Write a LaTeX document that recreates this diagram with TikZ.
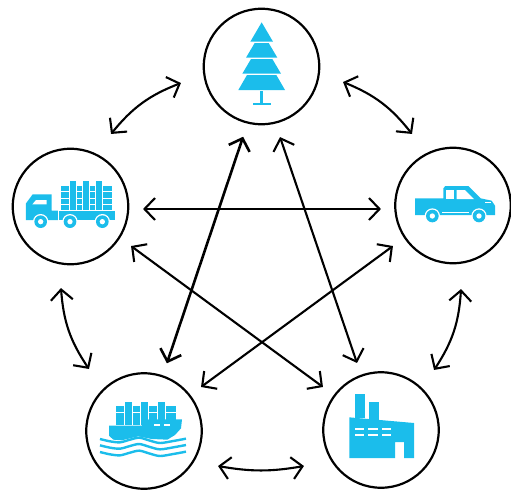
\documentclass[tikz,border=0pt]{standalone}
\usepackage{amsmath, amssymb}
\usetikzlibrary{arrows.meta}
\definecolor{iconBlue}{HTML}{1BBDEB}
\pgfdeclarearrow{
    name = OpenVee,
    setup code = {
        \pgfarrowssettipend{0pt}
        \pgfarrowssetlineend{-2pt}
        \pgfarrowssetbackend{-12pt}
        \pgfarrowssetvisualbackend{-2pt}
        \pgfarrowshullpoint{0pt}{0pt}
        \pgfarrowshullpoint{-12pt}{11pt}
        \pgfarrowshullpoint{-12pt}{-11pt}
    },
    drawing code = {
        \pgfsetdash{}{0pt}
        \pgfsetmiterjoin
        \pgfsetbuttcap
        \pgfpathmoveto{\pgfqpoint{-12pt}{11pt}}
        \pgfpathlineto{\pgfqpoint{-1.5pt}{0pt}}
        \pgfpathlineto{\pgfqpoint{-12pt}{-11pt}}
        \pgfusepathqstroke
    }
}
\tikzset{
    hub/.style={draw=black, circle, line width=2.2pt, minimum size=115.5pt, inner sep=0pt, outer sep=0pt},
    link/.style={draw=black, line width=2.1pt, {OpenVee}-{OpenVee}},
    icon/.style={fill=iconBlue, draw=none},
    gap/.style={fill=white, draw=none},
    wave/.style={draw=iconBlue, line width=2.4pt}
}

\begin{document}
\begin{tikzpicture}[x=1pt, y=-1pt]
    \useasboundingbox (0, 0) rectangle (511, 491);

    \node[hub] (treeHub) at (261.5, 66.5) {};
    \node[hub] (truckHub) at (70.5, 206.5) {};
    \node[hub] (pickupHub) at (453, 205.5) {};
    \node[hub] (shipHub) at (144, 431) {};
    \node[hub] (factoryHub) at (381, 430) {};

    % ends of the connectors
    \coordinate (truckUp) at (111, 134);
    \coordinate (treeLeft) at (181, 83);
    \coordinate (treeRight) at (343, 82);
    \coordinate (pickupUp) at (412, 134);
    \coordinate (pickupDown) at (461, 289);
    \coordinate (factoryRight) at (434, 370);
    \coordinate (factoryDown) at (304, 466);
    \coordinate (shipDown) at (218, 466);
    \coordinate (shipLeft) at (89, 369);
    \coordinate (truckDown) at (61, 288);
    \coordinate (truckEast) at (143, 209);
    \coordinate (pickupWest) at (381, 209);
    \coordinate (treeSouthWest) at (243, 137);
    \coordinate (shipNorth) at (167, 363);
    \coordinate (treeSouthEast) at (280, 137);
    \coordinate (factoryNorth) at (357, 363);
    \coordinate (truckSouth) at (131, 246);
    \coordinate (factoryWest) at (323, 387);
    \coordinate (pickupSouth) at (393, 246);
    \coordinate (shipEast) at (201, 387);

    \draw[link] (truckUp) to[bend left=15] (treeLeft);
    \draw[link] (treeRight) to[bend left=15] (pickupUp);
    \draw[link] (pickupDown) to[bend left=15] (factoryRight);
    \draw[link] (factoryDown) to[bend left=10] (shipDown);
    \draw[link] (shipLeft) to[bend left=15] (truckDown);
    \draw[link] (truckEast) -- (pickupWest);
    \draw[link, line width=2.6pt] (treeSouthWest) -- (shipNorth);
    \draw[link] (treeSouthEast) -- (factoryNorth);
    \draw[link] (truckSouth) -- (factoryWest);
    \draw[link] (pickupSouth) -- (shipEast);

    % tree
    \begin{scope}[shift={(200, 0)}, scale=1/3]
        \fill[icon] (185, 67) -- (219, 125) -- (151, 125) -- cycle;
        \fill[icon] (164, 129) -- (206, 129) -- (232, 173) -- (138, 173) -- cycle;
        \fill[icon] (153, 177) -- (217, 177) -- (243, 221) -- (127, 221) -- cycle;
        \fill[icon] (141, 225) -- (229, 225) -- (255, 270) -- (115, 270) -- cycle;
        \fill[icon] (181, 272) rectangle (189, 310);
        \fill[icon] (158, 308) rectangle (212, 316);
    \end{scope}

    % truck
    \begin{scope}[shift={(0, 140)}, scale=1/3]
        \fill[icon] (78, 190) -- (98, 163) -- (155, 163) -- (155, 212) -- (174, 212)
            -- (174, 240) -- (78, 240) -- cycle;
        \fill[icon] (177, 212) rectangle (345, 240);
        \fill[gap] (97, 193) -- (108, 180) -- (140, 180) -- (140, 193) -- cycle;
        \foreach \colX/\colW in {183/25, 231/16, 270/16, 309/26} {
            \foreach \rowY in {138, 157, 176, 195} {
                \fill[icon] (\colX, \rowY) rectangle ++(\colW, 16);
            }
        }
        \foreach \colX in {209, 248, 287} {
            \fill[icon] (\colX, 122) rectangle ++(20, 88);
        }
        \foreach \wheelX in {122, 210, 307} {
            \fill[gap] (\wheelX, 245) circle (23);
            \fill[icon] (\wheelX, 245) circle (19);
            \fill[gap] (\wheelX, 245) circle (8);
        }
    \end{scope}

    % pickup
    \begin{scope}[shift={(390, 140)}, scale=1/3]
        \fill[icon] (75, 175) -- (160, 175) -- (160, 145) -- (166, 138) -- (235, 138)
            -- (272, 175) -- (305, 182) -- (315, 197) -- (315, 225) -- (75, 225) -- cycle;
        \fill[gap] (168, 150) rectangle (193, 177);
        \fill[gap] (200, 150) -- (225, 150) -- (252, 177) -- (200, 177) -- cycle;
        \fill[gap] (285, 186) rectangle (303, 190);
        \fill[gap] (157, 217) rectangle (237, 220);
        \foreach \wheelX in {127, 267} {
            \fill[gap] (\wheelX, 228) circle (23);
            \fill[icon] (\wheelX, 228) circle (19);
            \fill[gap] (\wheelX, 228) circle (8);
        }
    \end{scope}

    % ship
    \begin{scope}[shift={(80, 365)}, scale=1/3]
        \foreach \colX/\colW in {107/25, 159/21, 207/24, 257/30} {
            \foreach \rowY in {122, 143, 163} {
                \fill[icon] (\colX, \rowY) rectangle ++(\colW, 18);
            }
        }
        \foreach \colX/\colW in {135/22, 182/23, 233/22} {
            \fill[icon] (\colX, 110) rectangle ++(\colW, 70);
        }
        \fill[icon] (87, 182) -- (185, 182) -- (206, 163) -- (306, 163) -- (303, 190)
            -- (285, 210) -- (262, 224) -- (215, 222) -- (175, 214) -- (125, 226)
            -- (100, 224) -- (87, 212) -- cycle;
        \fill[gap] (222, 177) rectangle (241, 182);
        \fill[gap] (251, 177) rectangle (270, 182);
        \foreach \waveY in {0, 19, 39} {
            \draw[wave] plot[smooth] coordinates {(60, 222 + \waveY) (90, 229 + \waveY)
                (120, 232 + \waveY) (150, 224 + \waveY) (178, 218 + \waveY) (210, 227 + \waveY)
                (240, 234 + \waveY) (280, 228 + \waveY) (318, 221 + \waveY)};
        }
    \end{scope}

    % factory
    \begin{scope}[shift={(315, 365)}, scale=1/3]
        \fill[icon] (120, 87) rectangle (150, 160);
        \fill[icon] (162, 111) rectangle (192, 165);
        \fill[icon] (103, 157) -- (297, 174) -- (297, 279) -- (267, 279) -- (267, 231)
            -- (240, 231) -- (240, 279) -- (103, 279) -- cycle;
        \foreach \dashX in {120, 160, 200} {
            \fill[gap] (\dashX, 189) rectangle ++(28, 6);
            \fill[gap] (\dashX, 208) rectangle ++(28, 6);
        }
    \end{scope}
\end{tikzpicture}
\end{document}
